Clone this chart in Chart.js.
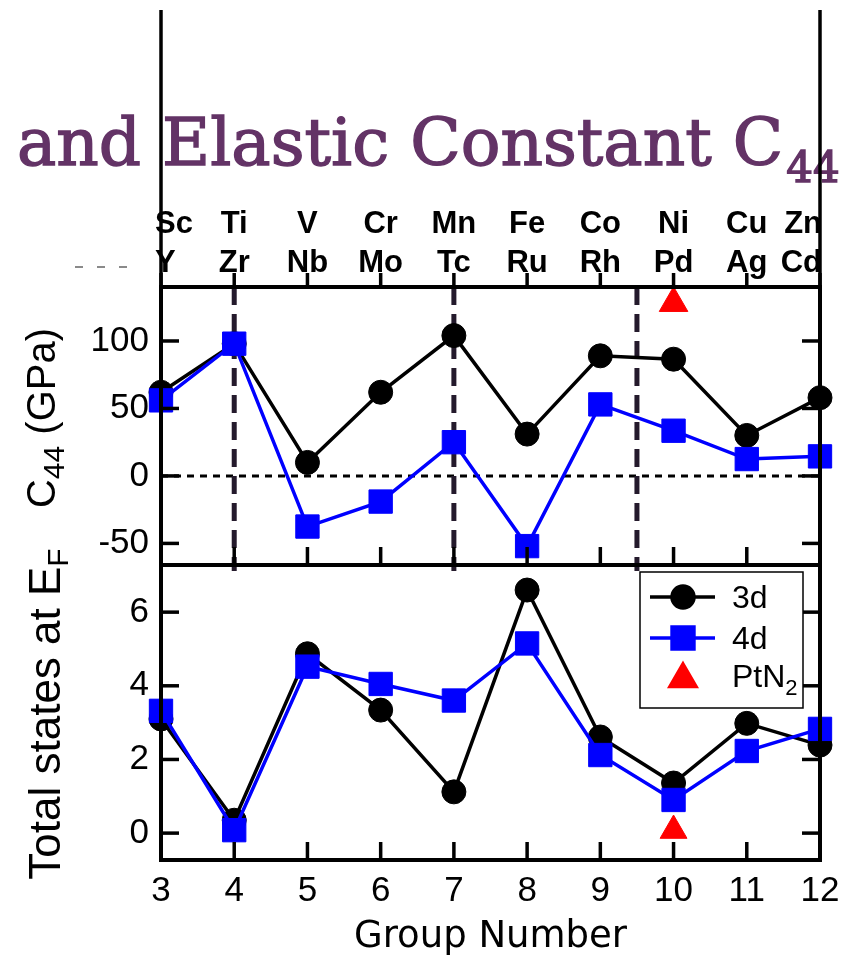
<!DOCTYPE html>
<html>
<head>
<meta charset="utf-8">
<title>C44 and states at EF vs group number</title>
<script src="https://cdn.jsdelivr.net/npm/chart.js@4.4.0/dist/chart.umd.min.js"></script>
<style>
  html, body { margin: 0; padding: 0; background: #fff; }
  #wrap { position: relative; width: 850px; height: 964px; }
  #wrap canvas { position: absolute; left: 0; top: 0; }
</style>
</head>
<body>
<div id="wrap">
  <canvas id="c44Chart" width="850" height="964"></canvas>
  <canvas id="dosChart" width="850" height="964"></canvas>
</div>
<script>
// group numbers and the 3d / 4d elements in each group
const groups = [3, 4, 5, 6, 7, 8, 9, 10, 11, 12];
const elements3d = ['Sc', 'Ti', 'V', 'Cr', 'Mn', 'Fe', 'Co', 'Ni', 'Cu', 'Zn'];
const elements4d = ['Y', 'Zr', 'Nb', 'Mo', 'Tc', 'Ru', 'Rh', 'Pd', 'Ag', 'Cd'];

// elastic constant C44 (GPa)
const c44_3d = [62, 98, 10, 62, 104, 31, 89, 86.5, 30, 58];
const c44_4d = [56, 98, -37.5, -19, 25, -52, 53, 33.5, 12.5, 14.5];

// total states at the Fermi level
const dos_3d = [3.1, 0.35, 4.87, 3.34, 1.12, 6.6, 2.61, 1.36, 2.98, 2.39];
const dos_4d = [3.32, 0.08, 4.52, 4.05, 3.6, 5.15, 2.12, 0.9, 2.23, 2.83];

// PtN2 reference point
const ptn2Group = [10];
const ptn2C44 = [128];
const ptn2Dos = [0.07];

// dashed dividers and axis ticks
const dividerGroups = [4, 7, 9.5];
const c44Ticks = [-50, 0, 50, 100];
const dosTicks = [0, 2, 4, 6];

const BLACK = '#000000';
const BLUE = '#0000ff';
const RED = '#ff0000';
const PURPLE = '#633366';
const SANS = "'Liberation Sans', Arial, sans-serif";

function pts(xs, ys) {
  return xs.map((x, i) => ({ x: x, y: ys[i] }));
}

function seg(ctx, x1, y1, x2, y2) {
  ctx.beginPath();
  ctx.moveTo(x1, y1);
  ctx.lineTo(x2, y2);
  ctx.stroke();
}

// text with subscripts, rotated to read bottom-to-top
function rotatedLabel(ctx, parts, baseX, centerY, size, subSize, subDrop) {
  ctx.save();
  ctx.translate(baseX, centerY);
  ctx.rotate(-Math.PI / 2);
  ctx.fillStyle = BLACK;
  ctx.textBaseline = 'alphabetic';
  ctx.textAlign = 'left';
  let total = 0;
  parts.forEach(p => {
    ctx.font = (p.sub ? subSize : size) + 'px ' + SANS;
    p.w = ctx.measureText(p.t).width;
    total += p.w;
  });
  let cx = -total / 2;
  parts.forEach(p => {
    ctx.font = (p.sub ? subSize : size) + 'px ' + SANS;
    ctx.fillText(p.t, cx, p.sub ? subDrop : 0);
    cx += p.w;
  });
  ctx.restore();
}

// frame plus inward ticks
function drawFrame(chart, tickOpts) {
  const { ctx, chartArea: a, scales: { x, y } } = chart;
  ctx.save();
  ctx.strokeStyle = BLACK;
  ctx.lineWidth = 3.5;
  ctx.setLineDash([]);
  ctx.lineCap = 'butt';
  tickOpts.yTicks.forEach(v => {
    const py = y.getPixelForValue(v);
    seg(ctx, a.left, py, a.left + 18, py);
    seg(ctx, a.right, py, a.right - 18, py);
  });
  groups.forEach(g => {
    const px = x.getPixelForValue(g);
    if (tickOpts.bottomIn) seg(ctx, px, a.bottom, px, a.bottom - 18);
    if (tickOpts.topOut) seg(ctx, px, a.top, px, a.top - 14);
  });
  ctx.lineWidth = 4;
  ctx.strokeRect(a.left, a.top, a.right - a.left, a.bottom - a.top);
  ctx.restore();
}

const c44Decor = {
  id: 'c44Decor',
  beforeDatasetsDraw(chart) {
    const { ctx, chartArea: a, scales: { x, y } } = chart;
    ctx.save();
    // zero line
    ctx.strokeStyle = BLACK;
    ctx.lineWidth = 3;
    ctx.setLineDash([7, 6]);
    const y0 = y.getPixelForValue(0);
    seg(ctx, a.left, y0, a.right, y0);
    // dividers between element blocks
    ctx.strokeStyle = '#241a2c';
    ctx.lineWidth = 5;
    ctx.setLineDash([18, 9]);
    dividerGroups.forEach(g => {
      const px = x.getPixelForValue(g);
      seg(ctx, px, a.top, px, a.bottom + 6);
    });
    ctx.restore();
  },
  afterDatasetsDraw(chart) {
    drawFrame(chart, { yTicks: c44Ticks, bottomIn: true, topOut: true });
  },
  afterDraw(chart) {
    const { ctx, chartArea: a, scales: { x } } = chart;
    ctx.save();

    // heading
    ctx.fillStyle = PURPLE;
    ctx.strokeStyle = PURPLE;
    ctx.lineWidth = 1.4;
    ctx.textBaseline = 'alphabetic';
    ctx.textAlign = 'left';
    ctx.font = "66px 'DejaVu Serif', serif";
    const head = 'and Elastic Constant C';
    ctx.fillText(head, 17, 165);
    ctx.strokeText(head, 17, 165);
    const hw = ctx.measureText(head).width;
    ctx.font = "42px 'DejaVu Serif', serif";
    ctx.fillText('44', 17 + hw + 3, 182);
    ctx.strokeText('44', 17 + hw + 3, 182);

    // vertical rules above the panel
    ctx.strokeStyle = BLACK;
    ctx.lineWidth = 3.5;
    seg(ctx, a.left, 10, a.left, a.top);
    seg(ctx, a.right, 10, a.right, a.top);

    // faint dashes at left
    ctx.strokeStyle = '#8a8a8a';
    ctx.lineWidth = 2;
    ctx.setLineDash([8, 14]);
    seg(ctx, 75, 267, 132, 267);
    ctx.setLineDash([]);

    // element symbols over each group
    ctx.fillStyle = BLACK;
    ctx.textAlign = 'center';
    ctx.font = "bold 31px 'Liberation Sans Narrow', 'Liberation Sans', sans-serif";
    groups.forEach((g, i) => {
      const px = x.getPixelForValue(g);
      [[elements3d[i], 233], [elements4d[i], 272]].forEach(([t, by]) => {
        const w = ctx.measureText(t).width;
        let cx = px;
        cx = Math.max(cx, a.left - 6 + w / 2);
        cx = Math.min(cx, a.right + 2 - w / 2);
        ctx.fillText(t, cx, by);
      });
    });
    ctx.restore();

    rotatedLabel(ctx, [{ t: 'C' }, { t: '44', sub: true }, { t: ' (GPa)' }], 55, 418, 40, 30, 9);
  }
};

const dosDecor = {
  id: 'dosDecor',
  afterDatasetsDraw(chart) {
    drawFrame(chart, { yTicks: dosTicks, bottomIn: true, topOut: false });
  },
  afterDraw(chart) {
    const { ctx, chartArea: a } = chart;
    rotatedLabel(ctx, [{ t: 'Total states at E' }, { t: 'F', sub: true }], 60, 714, 44, 30, 8);

    // legend
    const bx = a.right - 180, by = a.top + 7, bw = 163, bh = 136;
    ctx.save();
    ctx.fillStyle = '#fff';
    ctx.fillRect(bx, by, bw, bh);
    ctx.strokeStyle = BLACK;
    ctx.lineWidth = 1.5;
    ctx.strokeRect(bx, by, bw, bh);
    const rows = [
      { label: '3d', color: BLACK, style: 'circle', r: 11, line: 3.5, y: by + 25 },
      { label: '4d', color: BLUE, style: 'rect', r: 15.5, line: 3.5, y: by + 66 },
      { label: 'PtN', sub: '2', color: RED, style: 'triangle', r: 15, line: 0, y: by + 104 }
    ];
    rows.forEach(rw => {
      const mx = bx + 43;
      if (rw.line) {
        ctx.strokeStyle = rw.color;
        ctx.lineWidth = rw.line;
        seg(ctx, bx + 10, rw.y, bx + 75, rw.y);
      }
      ctx.fillStyle = rw.color;
      ctx.strokeStyle = rw.color;
      Chart.helpers.drawPoint(ctx, { pointStyle: rw.style, radius: rw.r, rotation: 0, borderWidth: 1 }, mx, rw.y + (rw.style === 'triangle' ? 3 : 0));
      ctx.fillStyle = BLACK;
      ctx.textBaseline = 'alphabetic';
      ctx.textAlign = 'left';
      ctx.font = '32px ' + SANS;
      ctx.fillText(rw.label, bx + 92, rw.y + 11);
      if (rw.sub) {
        const w = ctx.measureText(rw.label).width;
        ctx.font = '22px ' + SANS;
        ctx.fillText(rw.sub, bx + 92 + w, rw.y + 19);
      }
    });
    ctx.restore();
  }
};

function lineSet(label, xs, ys, color, style, radius, width, order) {
  return {
    label: label,
    data: pts(xs, ys),
    borderColor: color,
    backgroundColor: color,
    borderWidth: width,
    pointStyle: style,
    pointRadius: radius,
    pointBorderWidth: 1,
    pointBorderColor: color,
    pointBackgroundColor: color,
    showLine: width > 0,
    tension: 0,
    clip: false,
    order: order
  };
}

const xScale = (show) => ({
  type: 'linear',
  min: 3,
  max: 12,
  display: show,
  afterBuildTicks: s => { s.ticks = groups.map(v => ({ value: v })); },
  afterFit: s => { s.height = show ? 104 : 0; },
  grid: { display: false, drawTicks: false },
  border: { display: false },
  ticks: { color: BLACK, font: { size: 35, family: SANS }, padding: 10, maxRotation: 0, autoSkip: false },
  title: {
    display: show,
    text: 'Group Number',
    color: BLACK,
    font: { size: 37, family: "'DejaVu Sans', sans-serif" },
    padding: { top: 0, bottom: 4 }
  }
});

const yScale = (min, max, tickVals) => ({
  type: 'linear',
  min: min,
  max: max,
  afterBuildTicks: s => { s.ticks = tickVals.map(v => ({ value: v })); },
  afterFit: s => { s.width = 161; },
  grid: { display: false, drawTicks: false },
  border: { display: false },
  ticks: { color: BLACK, font: { size: 35, family: SANS }, padding: 12 }
});

const baseOptions = {
  responsive: false,
  animation: false,
  devicePixelRatio: 1,
  events: [],
  plugins: { legend: { display: false }, tooltip: { enabled: false } }
};

new Chart(document.getElementById('c44Chart'), {
  type: 'scatter',
  data: {
    datasets: [
      lineSet('PtN2', ptn2Group, ptn2C44, RED, 'triangle', 16.5, 0, 0),
      lineSet('4d', groups, c44_4d, BLUE, 'rect', 16.5, 3.5, 1),
      lineSet('3d', groups, c44_3d, BLACK, 'circle', 12, 3.5, 2)
    ]
  },
  options: Object.assign({}, baseOptions, {
    layout: { padding: { top: 287, right: 30, bottom: 399, left: 0 } },
    scales: { x: xScale(false), y: yScale(-66, 140, c44Ticks) }
  }),
  plugins: [c44Decor]
});

new Chart(document.getElementById('dosChart'), {
  type: 'scatter',
  data: {
    datasets: [
      lineSet('PtN2', ptn2Group, ptn2Dos, RED, 'triangle', 15.5, 0, 0),
      lineSet('4d', groups, dos_4d, BLUE, 'rect', 16.5, 3.5, 1),
      lineSet('3d', groups, dos_3d, BLACK, 'circle', 12, 3.5, 2)
    ]
  },
  options: Object.assign({}, baseOptions, {
    layout: { padding: { top: 565, right: 30, bottom: 0, left: 0 } },
    scales: { x: xScale(true), y: yScale(-0.73, 7.28, dosTicks) }
  }),
  plugins: [dosDecor]
});
</script>
</body>
</html>
